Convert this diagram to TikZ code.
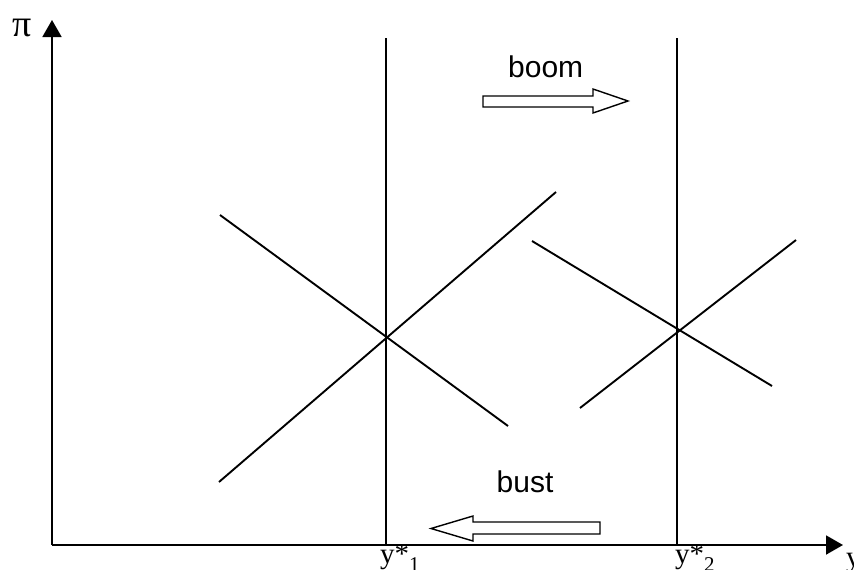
\documentclass[tikz,border=0pt]{standalone}
\usepackage{fontspec}
\setmainfont{Liberation Serif}
\newfontfamily\labsans{Liberation Sans}
\usetikzlibrary{arrows.meta}
\begin{document}
\begin{tikzpicture}[x=1pt,y=-1pt,
  ln/.style={line width=1.9pt, line cap=butt},
  axis/.style={line width=1.9pt, -{Triangle[length=17pt,width=19pt]}},
  hollow/.style={line width=1.4pt, fill=white, line join=miter},
  serlab/.style={inner sep=0pt, font=\fontsize{29}{31}\selectfont},
  sanlab/.style={inner sep=0pt, font=\labsans\fontsize{30}{32}\selectfont}]
\useasboundingbox (0,0) rectangle (854,570);
% axes
\coordinate (O) at (52,545);
\coordinate (Ytop) at (52,20);
\coordinate (Xend) at (843,545);
\draw[axis] (O) -- (Ytop);
\draw[axis] (O) -- (Xend);
\node[inner sep=0pt, font=\fontsize{38}{40}\selectfont, anchor=base west] (pi) at (12,36) {π};
\node[serlab, anchor=base west] (ylab) at (846,566) {y};
% vertical lines
\coordinate (v1t) at (386,38);
\coordinate (v1b) at (386,545);
\coordinate (v2t) at (677,38);
\coordinate (v2b) at (677,545);
\draw[ln] (v1t) -- (v1b);
\draw[ln] (v2t) -- (v2b);
\node[serlab, anchor=base west] (ys1) at (380,563) {y*\raisebox{-0.28em}{\fontsize{21}{23}\selectfont 1}};
\node[serlab, anchor=base west] (ys2) at (675,563) {y*\raisebox{-0.28em}{\fontsize{21}{23}\selectfont 2}};
% first cross
\coordinate (a1) at (220,215);
\coordinate (a2) at (508,426);
\coordinate (b1) at (219,482);
\coordinate (b2) at (556,192);
\draw[ln] (a1) -- (a2);
\draw[ln] (b1) -- (b2);
% second cross
\coordinate (c1) at (532,241);
\coordinate (c2) at (772,386);
\coordinate (d1) at (580,408);
\coordinate (d2) at (796,240);
\draw[ln] (c1) -- (c2);
\draw[ln] (d1) -- (d2);
% boom arrow
\node[sanlab, anchor=base west] (boom) at (508,77) {boom};
\draw[hollow] (483,96) -- (593,96) -- (593,89) -- (628,101) -- (593,113) -- (593,107) -- (483,107) -- cycle;
% bust arrow
\node[sanlab, anchor=base] (bust) at (525,492) {bust};
\draw[hollow] (600,522) -- (473,522) -- (473,516) -- (431,528.5) -- (473,541) -- (473,534) -- (600,534) -- cycle;
\end{tikzpicture}
\end{document}
